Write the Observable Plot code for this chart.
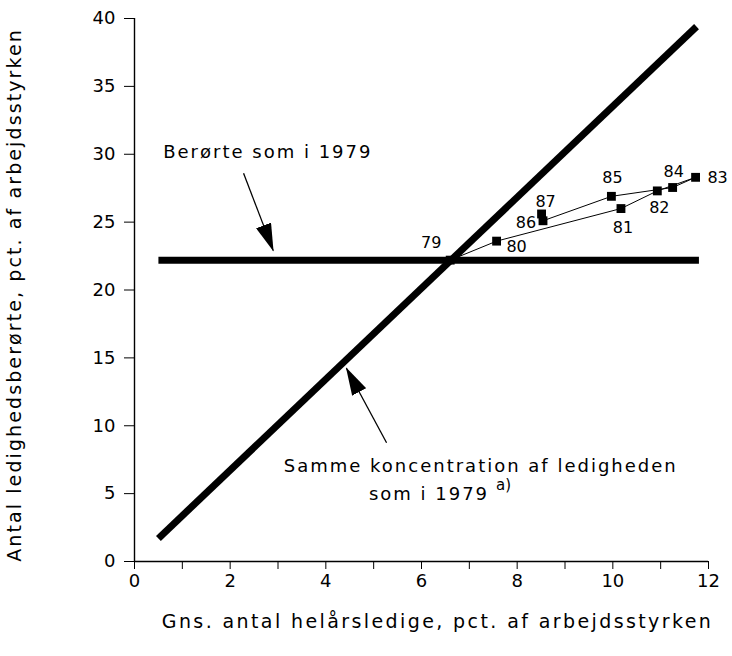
<!DOCTYPE html>
<html>
<head>
<meta charset="utf-8">
<script src="https://cdn.jsdelivr.net/npm/d3@7"></script>
<script src="https://cdn.jsdelivr.net/npm/@observablehq/plot@0.6"></script>
<style>
  body { margin: 0; background: #fff; }
</style>
</head>
<body>
<div id="chart"></div>
<script>
// ---- data ----
const years    = ["79", "80", "81", "82", "83", "84", "85", "86", "87"];
const unemp    = [6.6, 7.57, 10.17, 10.93, 11.73, 11.25, 9.97, 8.54, 8.51];   // x: avg. full-year unemployed, % of labour force
const affected = [22.2, 23.6, 26.0, 27.3, 28.3, 27.55, 26.9, 25.1, 25.6];    // y: affected by unemployment, % of labour force

// reference line: "Berørte som i 1979" (same share affected as 1979)
const sameAffectedX = [0.5, 11.8];
const sameAffectedY = [22.2, 22.2];
// reference line: "Samme koncentration af ledigheden som i 1979"
const sameConcX = [0.5, 11.75];
const sameConcY = [1.7, 39.4];

const xTicks = [0, 1, 2, 3, 4, 5, 6, 7, 8, 9, 10, 11, 12];
const yTicks = [0, 5, 10, 15, 20, 25, 30, 35, 40];

const xTitle = "Gns. antal helårsledige, pct. af arbejdsstyrken";
const yTitle = "Antal ledighedsberørte, pct. af arbejdsstyrken";

const noteTexts = ["Berørte som i 1979", "Samme koncentration af ledigheden", "som i 1979"];
const noteX = [0.6, 3.12, 4.9];
const noteY = [30.15, 7.0, 4.93];
const footnoteMark = "a)";
const footnoteX = [7.56];
const footnoteY = [5.6];

const arrowX1 = [2.28, 5.27];
const arrowY1 = [28.6, 8.75];
const arrowX2 = [2.90, 4.43];
const arrowY2 = [22.9, 14.24];

// ---- rendering ----
const points = years.map((yr, i) => ({year: yr, x: unemp[i], y: affected[i]}));

// label offsets (pixels) for the year labels
const labelOffset = {
  "79": [-19, -17], "80": [20, 6], "81": [2, 19], "82": [2, 17], "83": [22, 1],
  "84": [1, -16], "85": [1, -18], "86": [-17, 2], "87": [4, -12]
};

function filledArrow(color) {
  const m = d3.create("svg:marker")
    .attr("viewBox", "0 -8 28 16")
    .attr("markerUnits", "userSpaceOnUse")
    .attr("markerWidth", 28)
    .attr("markerHeight", 16)
    .attr("refX", 27)
    .attr("refY", 0)
    .attr("orient", "auto");
  m.append("path").attr("d", "M0,-8L28,0L0,8Z").attr("fill", color).attr("stroke", "none");
  return m.node();
}

const lineData = (xs, ys) => xs.map((x, i) => ({x, y: ys[i]}));

const chart = Plot.plot({
  width: 732,
  height: 656,
  marginLeft: 134,
  marginRight: 24,
  marginTop: 18,
  marginBottom: 95,
  style: {fontFamily: "DejaVu Sans", fontSize: "18px", color: "black", background: "white"},
  x: {domain: [0, 12]},
  y: {domain: [0, 40]},
  marks: [
    Plot.axisX({ticks: xTicks, tickFormat: d => d % 2 === 0 ? String(d) : "", tickSize: 8, tickPadding: 5, label: null, fontSize: 18}),
    Plot.axisY({ticks: yTicks, tickSize: 10, tickPadding: 9, label: null, fontSize: 18}),
    Plot.ruleX([0], {stroke: "black", strokeWidth: 1.4}),
    Plot.ruleY([0], {stroke: "black", strokeWidth: 1.4}),
    // path of years
    Plot.line(points, {x: "x", y: "y", stroke: "black", strokeWidth: 1}),
    Plot.dot(points, {x: "x", y: "y", symbol: "square", r: 5, fill: "black", stroke: "none"}),
    ...points.map(p => Plot.text([p], {x: "x", y: "y", text: "year", dx: labelOffset[p.year][0], dy: labelOffset[p.year][1], fontSize: 16, fill: "black"})),
    // thick reference lines
    Plot.line(lineData(sameAffectedX, sameAffectedY), {x: "x", y: "y", stroke: "black", strokeWidth: 7, strokeLinecap: "butt"}),
    Plot.line(lineData(sameConcX, sameConcY), {x: "x", y: "y", stroke: "black", strokeWidth: 7, strokeLinecap: "butt"}),
    // annotations
    Plot.text(noteTexts, {x: noteX, y: noteY, text: d => d, textAnchor: "start", fontSize: 18, fill: "black"}),
    Plot.text([footnoteMark], {x: footnoteX, y: footnoteY, text: d => d, textAnchor: "start", fontSize: 15, fill: "black"}),
    Plot.link([0, 1], {x1: arrowX1, y1: arrowY1, x2: arrowX2, y2: arrowY2, stroke: "black", strokeWidth: 1.3, markerEnd: filledArrow}),
    // axis titles
    Plot.text([xTitle], {frameAnchor: "bottom", textAnchor: "middle", dx: 16, dy: 66, text: d => d, fontSize: 19, fill: "black"}),
    Plot.text([yTitle], {frameAnchor: "left", textAnchor: "middle", dx: -120, dy: 5, rotate: -90, text: d => d, fontSize: 19, fill: "black"})
  ]
});

// widen the lettering to match the reference's broad typeface
const svg = d3.select(chart);
svg.selectAll("text").filter(function () { return this.textContent === xTitle; })
  .style("letter-spacing", "2.4px");
svg.selectAll("text").filter(function () { return this.textContent === yTitle; })
  .style("letter-spacing", "2.1px");
svg.selectAll("text").filter(function () { return noteTexts.includes(this.textContent); })
  .style("letter-spacing", "2px");

document.getElementById("chart").appendChild(chart);
</script>
</body>
</html>
